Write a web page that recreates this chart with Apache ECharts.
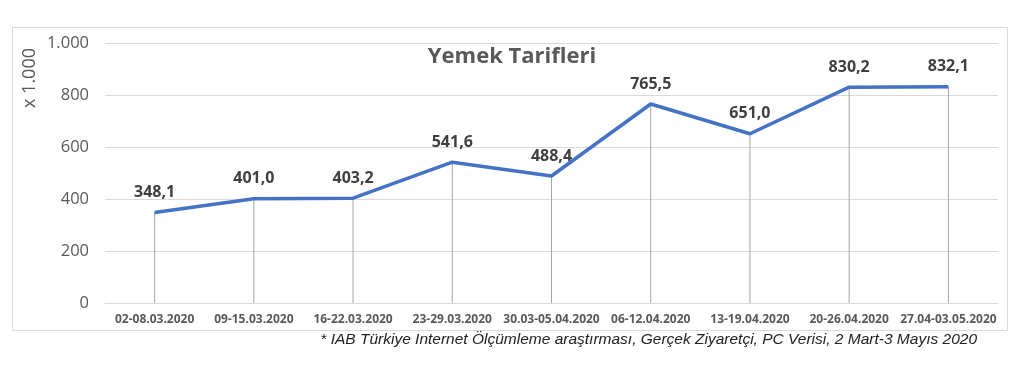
<!DOCTYPE html>
<html><head><meta charset="utf-8">
<script src="https://cdn.jsdelivr.net/npm/echarts@6/dist/echarts.min.js"></script>
<style>html,body{margin:0;padding:0;background:#fff}#c{width:1024px;height:376px}</style>
</head><body><div id="c"></div>
<script>
const categories = ['02-08.03.2020','09-15.03.2020','16-22.03.2020','23-29.03.2020','30.03-05.04.2020','06-12.04.2020','13-19.04.2020','20-26.04.2020','27.04-03.05.2020'];
const values = [348.1, 401.0, 403.2, 541.6, 488.4, 765.5, 651.0, 830.2, 832.1];
const yTicks = [0, 200, 400, 600, 800, 1000];
const titleText = 'Yemek Tarifleri';
const yName = 'x 1.000';
const footnote = '* IAB Türkiye Internet Ölçümleme araştırması, Gerçek Ziyaretçi, PC Verisi, 2 Mart-3 Mayıs 2020';

const fmt = v => v.toFixed(1).replace('.', ',');

const chart = echarts.init(document.getElementById('c'), null, {renderer:'canvas'});
chart.setOption({
  animation: false,
  backgroundColor: '#fff',
  title: { text: titleText, left: 'center', top: 41, textStyle: { fontFamily: 'Open Sans', fontWeight: 'bold', fontSize: 22, color: '#595959' } },
  graphic: [
    { type: 'rect', shape: { x: 12.5, y: 27.5, width: 995, height: 303 }, style: { fill: 'none', stroke: '#d9d9d9', lineWidth: 1 }, silent: true, z: -1 },
    { type: 'text', right: 47, top: 332, style: { text: footnote, fill: '#222', font: 'italic 15.5px "Liberation Sans", Arial, sans-serif' } },
    { type: 'text', x: 21, y: 108, rotation: Math.PI/2, style: { text: yName, fill: '#595959', font: '18px "Open Sans", sans-serif' } }
  ],
  grid: { left: 105, right: 26, top: 43, bottom: 73 },
  xAxis: {
    type: 'category', data: categories, boundaryGap: true,
    axisLine: { show: true, lineStyle: { color: '#d9d9d9' } },
    axisTick: { show: false },
    axisLabel: { interval: 0, color: '#595959', fontFamily: 'Open Sans', fontWeight: 'bold', fontSize: 12, margin: 11 }
  },
  yAxis: {
    type: 'value', min: yTicks[0], max: yTicks[yTicks.length-1], interval: 200,
    axisLine: { show: false }, axisTick: { show: false },
    splitLine: { lineStyle: { color: '#d9d9d9' } },
    axisLabel: { color: '#595959', fontFamily: 'Open Sans', fontSize: 16.5, margin: 16, formatter: v => v === 1000 ? '1.000' : String(v) }
  },
  series: [
    { type: 'bar', data: values, barWidth: 1, itemStyle: { color: '#a6a6a6' }, silent: true, z: 1,
      label: { show: true, position: 'top', distance: 12, formatter: p => fmt(p.value), color: '#404040', fontFamily: 'Open Sans', fontWeight: 'bold', fontSize: 16 } },
    { type: 'line', data: values, symbol: 'none', z: 3,
      lineStyle: { color: '#4472C4', width: 3.5 } }
  ]
});
</script></body></html>
